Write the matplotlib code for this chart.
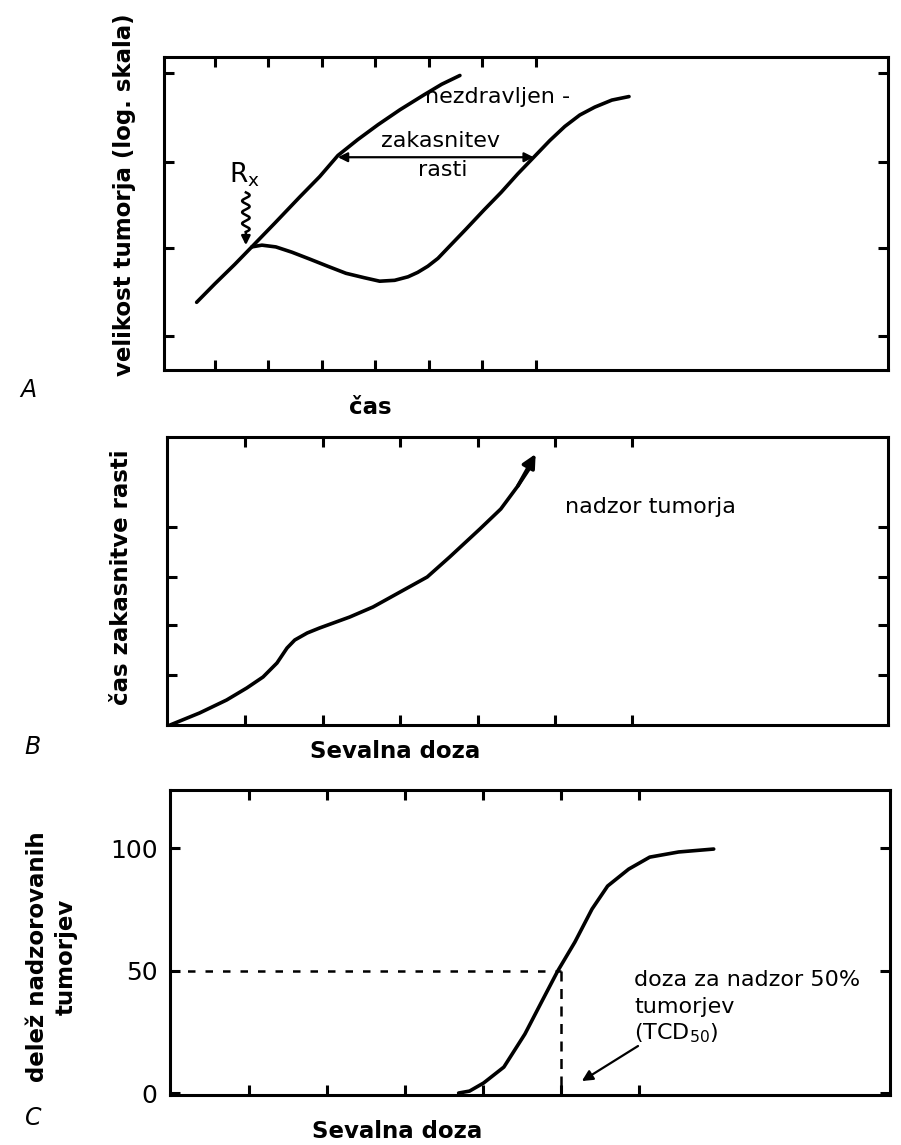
import matplotlib
matplotlib.use("Agg")
import matplotlib.pyplot as plt
import numpy as np

# ---------------- data ----------------
# Panel A: tumour size (log scale, arbitrary units) vs time
a_untreated_x = [0.66, 1.00, 1.37, 1.69, 2.12, 2.59, 2.96, 3.30, 3.67, 4.05, 4.46, 4.91, 5.24, 5.58]
a_untreated_y = [0.77, 0.98, 1.20, 1.40, 1.67, 1.97, 2.20, 2.44, 2.62, 2.79, 2.96, 3.13, 3.25, 3.35]
a_treated_x = [1.69, 1.88, 2.14, 2.44, 2.78, 3.11, 3.45, 3.79, 4.08, 4.36, 4.61, 4.79, 4.98,
               5.17, 5.39, 5.69, 6.03, 6.35, 6.66, 6.96, 7.26, 7.54, 7.82, 8.10, 8.42, 8.74]
a_treated_y = [1.40, 1.42, 1.40, 1.34, 1.26, 1.18, 1.10, 1.05, 1.01, 1.02, 1.06, 1.11, 1.18,
               1.27, 1.41, 1.60, 1.82, 2.02, 2.23, 2.42, 2.61, 2.77, 2.90, 2.99, 3.07, 3.11]
a_delay_x = [3.30, 6.96]
a_delay_y = 2.42
a_rx_x = 1.58
a_rx_y = [2.02, 1.40]
a_xticks = [1, 2, 3, 4, 5, 6, 7]
a_yticks = [0.39, 1.39, 2.37, 3.38]

# Panel B: growth delay vs radiation dose
b_x = [0.03, 0.41, 0.76, 1.02, 1.23, 1.41, 1.54, 1.64, 1.80, 1.96, 2.35, 2.65, 3.00,
       3.35, 3.64, 4.03, 4.30, 4.52, 4.69, 4.75]
b_y = [0.00, 0.24, 0.50, 0.74, 0.96, 1.24, 1.54, 1.70, 1.84, 1.94, 2.16, 2.36, 2.66,
       2.96, 3.36, 3.92, 4.32, 4.78, 5.18, 5.42]
b_xticks = [1, 2, 3, 4, 5, 6]
b_yticks = [1.0, 2.0, 2.96, 3.96]

# Panel C: percent of tumours controlled vs radiation dose
c_x = [3.69, 3.83, 4.01, 4.27, 4.54, 4.76, 4.96, 5.18, 5.40, 5.60, 5.87, 6.14, 6.51, 6.96]
c_y = [0.0, 0.8, 4.1, 10.6, 24.1, 37.6, 49.8, 61.6, 75.1, 84.5, 91.4, 96.3, 98.4, 99.6]
c_tcd50 = 5.0
c_xticks = [1, 2, 3, 4, 5, 6]
c_yticks = [0, 50, 100]
c_yticklabels = ["0", "50", "100"]

# ---------------- figure ----------------
W, H = 901, 1145
fig = plt.figure(figsize=(W / 100, H / 100), dpi=100)
plt.rcParams["font.family"] = ["DejaVu Sans"]


def fx(px):
    return px / W


def fy(py):
    return 1 - py / H


def add_axes_px(l, t, r, b):
    return fig.add_axes([l / W, 1 - b / H, (r - l) / W, (b - t) / H])


LW = 2.6
SP = 2.2
LINE = dict(color="k", lw=LW, solid_capstyle="round", solid_joinstyle="round")


def style(ax, xticks, yticks, xlim, ylim, labelleft=False):
    ax.set_xlim(*xlim)
    ax.set_ylim(*ylim)
    ax.set_xticks(xticks)
    ax.set_yticks(yticks)
    ax.tick_params(direction="in", length=7, width=2.2, top=True, right=True,
                   labelbottom=False, labelleft=labelleft)
    for s in ax.spines.values():
        s.set_linewidth(SP)


BOLD = dict(fontsize=16.5, fontweight="bold")
REG = dict(fontsize=16)

# ---- Panel A ----
axA = add_axes_px(164, 57, 888, 370)
style(axA, a_xticks, a_yticks, (0.05, 13.58), (0, 3.56))
axA.plot(a_untreated_x, a_untreated_y, **LINE)
axA.plot(a_treated_x, a_treated_y, **LINE)
axA.annotate("", xy=(a_delay_x[0], a_delay_y), xytext=(a_delay_x[1], a_delay_y),
             arrowprops=dict(arrowstyle="<|-|>", lw=1.6, color="k", mutation_scale=14,
                             shrinkA=0, shrinkB=0))
axA.text(5.22, 2.61, "zakasnitev", ha="center", va="center", **REG)
axA.text(5.26, 2.28, "rasti", ha="center", va="center", **REG)
axA.text(4.93, 3.10, "nezdravljen -", ha="left", va="center", **REG)
axA.text(1.55, 2.22, r"R$_\mathrm{x}$", ha="center", va="center", fontsize=19)
# wavy radiation arrow
t = np.linspace(0, 1, 200)
wy = a_rx_y[0] + (a_rx_y[1] + 0.17 - a_rx_y[0]) * t
wx = a_rx_x + 0.07 * np.sin(2 * np.pi * 3.5 * t)
axA.plot(wx, wy, color="k", lw=1.8)
axA.annotate("", xy=(a_rx_x, a_rx_y[1] + 0.02), xytext=(a_rx_x, wy[-1]),
             arrowprops=dict(arrowstyle="-|>", lw=1.8, color="k", mutation_scale=13,
                             shrinkA=0, shrinkB=0))
fig.text(fx(124), fy(195), "velikost tumorja (log. skala)", rotation=90,
         ha="center", va="center", **BOLD)
fig.text(fx(370), fy(407), "čas", ha="center", va="center", **BOLD)
fig.text(fx(28), fy(390), "A", ha="center", va="center", fontsize=17, style="italic")

# ---- Panel B ----
axB = add_axes_px(167, 437, 888, 725)
style(axB, b_xticks, b_yticks, (-0.01, 9.30), (0, 5.76))
axB.plot(b_x[:-1], b_y[:-1], **LINE)
axB.annotate("", xy=(b_x[-1], b_y[-1]), xytext=(b_x[-3], b_y[-3]),
             arrowprops=dict(arrowstyle="-|>", lw=LW, color="k", mutation_scale=20,
                             shrinkA=0, shrinkB=0))
axB.text(5.13, 4.36, "nadzor tumorja", ha="left", va="center", **REG)
fig.text(fx(122), fy(577), "čas zakasnitve rasti", rotation=90,
         ha="center", va="center", **BOLD)
fig.text(fx(395), fy(752), "Sevalna doza", ha="center", va="center", **BOLD)
fig.text(fx(32), fy(747), "B", ha="center", va="center", fontsize=17, style="italic")

# ---- Panel C ----
axC = add_axes_px(170, 790, 890, 1095)
style(axC, c_xticks, c_yticks, (-0.01, 9.22), (-0.8, 123.7), labelleft=True)
axC.set_yticklabels(c_yticklabels, fontsize=18)
axC.tick_params(axis="y", pad=9)
axC.plot(c_x, c_y, **LINE)
axC.plot([-0.01, c_tcd50], [50, 50], color="k", lw=1.8, ls=(0, (3, 4)))
axC.plot([c_tcd50, c_tcd50], [50, -0.8], color="k", lw=1.8, ls=(0, (4, 3)))
axC.text(5.94, 46.1, "doza za nadzor 50%", ha="left", va="center", **REG)
axC.text(5.94, 35.1, "tumorjev", ha="left", va="center", **REG)
axC.text(5.94, 24.5, r"(TCD$_{50}$)", ha="left", va="center", **REG)
axC.annotate("", xy=(5.27, 4.9), xytext=(5.99, 19.2),
             arrowprops=dict(arrowstyle="-|>", lw=1.6, color="k", mutation_scale=16,
                             shrinkA=0, shrinkB=0))
fig.text(fx(52), fy(957), "delež nadzorovanih\ntumorjev", rotation=90,
         ha="center", va="center", multialignment="center", linespacing=1.3, **BOLD)
fig.text(fx(397), fy(1132), "Sevalna doza", ha="center", va="center", **BOLD)
fig.text(fx(33), fy(1118), "C", ha="center", va="center", fontsize=17, style="italic")

fig.savefig("out.png", dpi=100)
